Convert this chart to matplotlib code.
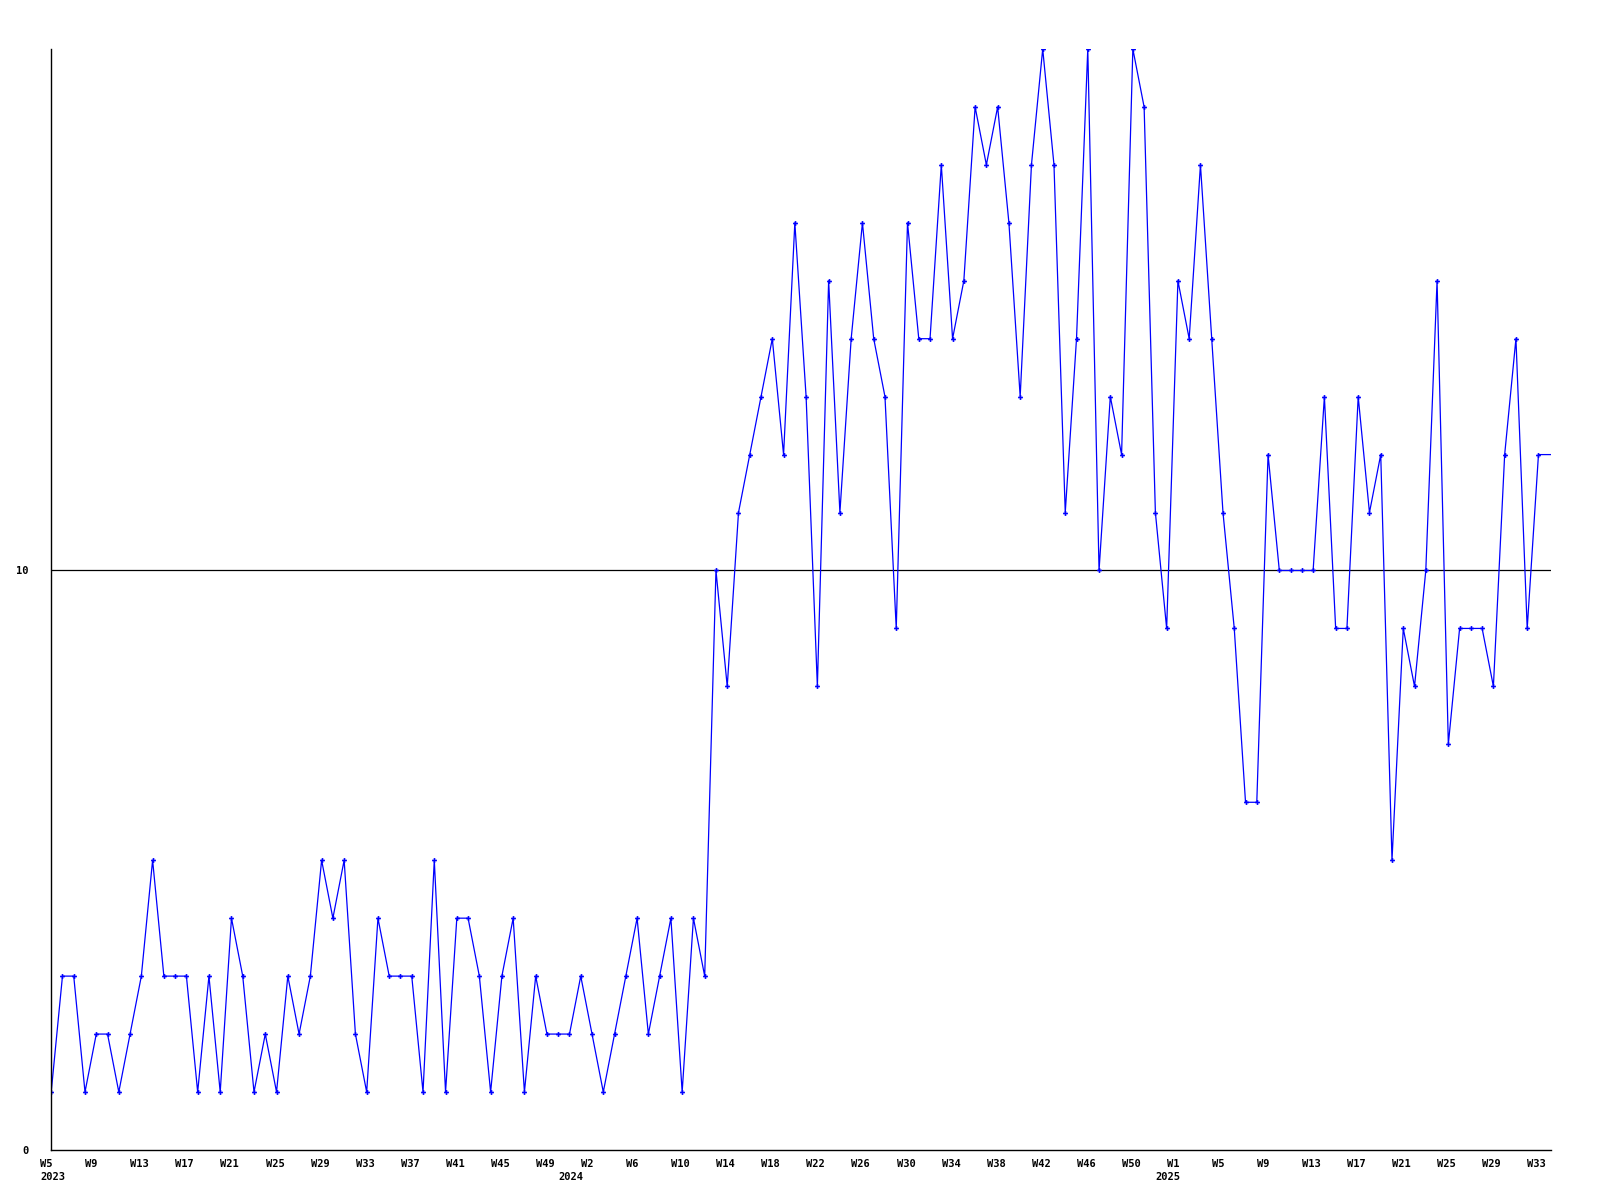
import matplotlib
matplotlib.use("Agg")
import matplotlib.pyplot as plt
import matplotlib.transforms as mtransforms

# weekly counts, W5 2023 .. W33 2025 (+ points past the right edge)
values = [
    1, 3, 3, 1, 2, 2, 1, 2, 3, 5,
    3, 3, 3, 1, 3, 1, 4, 3, 1, 2,
    1, 3, 2, 3, 5, 4, 5, 2, 1, 4,
    3, 3, 3, 1, 5, 1, 4, 4, 3, 1,
    3, 4, 1, 3, 2, 2, 2, 3, 2, 1,
    2, 3, 4, 2, 3, 4, 1, 4, 3, 10,
    8, 11, 12, 13, 14, 12, 16, 13, 8, 15,
    11, 14, 16, 14, 13, 9, 16, 14, 14, 17,
    14, 15, 18, 17, 18, 16, 13, 17, 19, 17,
    11, 14, 19, 10, 13, 12, 19, 18, 11, 9,
    15, 14, 17, 14, 11, 9, 6, 6, 12, 10,
    10, 10, 10, 13, 9, 9, 13, 11, 12, 5,
    9, 8, 10, 15, 7, 9, 9, 9, 8, 12,
    14, 9, 12, 12, 12,
]
n_shown = 133

week_labels = [
    "W5", "W9", "W13", "W17", "W21", "W25", "W29", "W33", "W37", "W41",
    "W45", "W49", "W2", "W6", "W10", "W14", "W18", "W22", "W26", "W30",
    "W34", "W38", "W42", "W46", "W50", "W1", "W5", "W9", "W13", "W17",
    "W21", "W25", "W29", "W33",
]
week_pos = list(range(0, n_shown, 4))

year_labels = ["2023", "2024", "2025"]
year_pos = [0, 46, 99]

font = {"family": "DejaVu Sans Mono", "weight": "bold", "size": 7.5}

fig = plt.figure(figsize=(16, 12), dpi=100)
ax = fig.add_axes([0.032, 0.0417, 0.9375, 0.9175])

x = list(range(len(values)))
# points past the edge: line only, no marker
ax.plot(x, values, color="#0000ff", lw=0.9, marker="P", ms=3.5,
        markeredgewidth=0, markevery=list(range(n_shown)))

ax.axhline(10, color="black", lw=0.9, zorder=0)

ax.set_xlim(0, 133.13)
ax.set_ylim(0, 19)

for side in ("top", "right"):
    ax.spines[side].set_visible(False)
ax.spines["left"].set_linewidth(1)
ax.spines["bottom"].set_linewidth(1)

ax.set_yticks([0, 10])
ax.set_yticklabels(["0", "10"], fontdict=font)
ax.tick_params(axis="y", length=0, pad=16)

ax.set_xticks([])
shift = mtransforms.ScaledTranslation(-11 / 100, 0, fig.dpi_scale_trans)
tr = mtransforms.blended_transform_factory(ax.transData, ax.transAxes) + shift
for pos, lab in zip(week_pos, week_labels):
    ax.text(pos, -0.0125, lab, transform=tr, ha="left", va="center", **font)
for pos, lab in zip(year_pos, year_labels):
    ax.text(pos, -0.025, lab, transform=tr, ha="left", va="center", **font)

fig.savefig("out.png", dpi=100)
